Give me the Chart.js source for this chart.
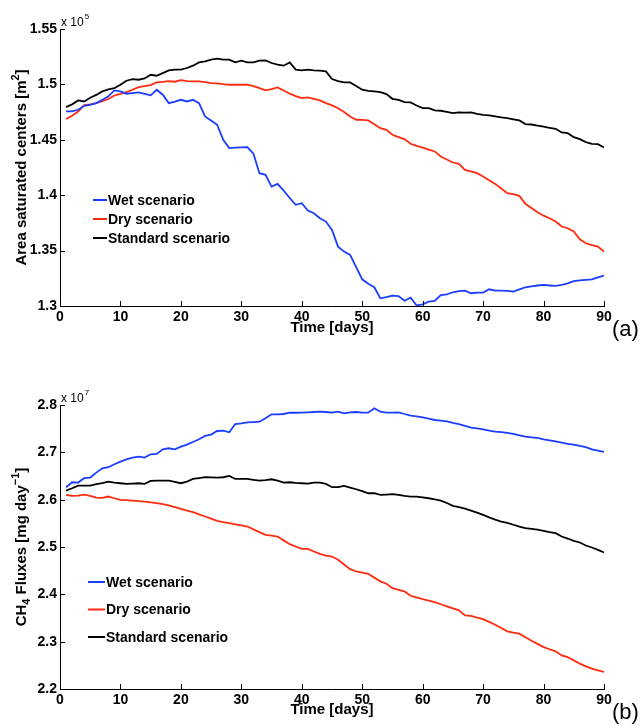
<!DOCTYPE html>
<html><head><meta charset="utf-8">
<script src="https://cdn.jsdelivr.net/npm/chart.js@4.4.1/dist/chart.umd.min.js"></script>
<style>
html,body{margin:0;padding:0;background:#fff;}
#wrap{position:relative;width:642px;height:726px;overflow:hidden;}
canvas{position:absolute;left:0;}
</style></head><body>
<div id="wrap">
<canvas id="ca" width="642" height="363" style="top:0px"></canvas>
<canvas id="cb" width="642" height="363" style="top:363px"></canvas>
</div>
<script>
// ---------- data ----------
const days = Array.from({length: 90}, (_, i) => i + 1);
const seriesNames = ['Wet scenario', 'Dry scenario', 'Standard scenario'];

// Panel (a): Area saturated centers, units of 1e5 m^2
const areaWet = [1.4756,1.4756,1.4771,1.4807,1.4815,1.4831,1.4860,1.4892,1.4946,1.4937,
1.4916,1.4922,1.4928,1.4915,1.4901,1.4952,1.4907,1.4831,1.4845,1.4861,
1.4846,1.4861,1.4831,1.4711,1.4675,1.4636,1.4500,1.4425,1.4430,1.4432,
1.4434,1.4374,1.4199,1.4184,1.4078,1.4102,1.4042,1.3975,1.3913,1.3928,
1.3861,1.3837,1.3792,1.3762,1.3687,1.3536,1.3491,1.3461,1.3350,1.3241,
1.3200,1.3169,1.3069,1.3080,1.3093,1.3090,1.3048,1.3075,1.3005,1.3015,
1.3039,1.3045,1.3099,1.3105,1.3124,1.3135,1.3139,1.3115,1.3121,1.3121,
1.3151,1.3139,1.3138,1.3137,1.3130,1.3150,1.3169,1.3178,1.3185,1.3190,
1.3185,1.3181,1.3190,1.3205,1.3225,1.3232,1.3236,1.3241,1.3258,1.3274];
const areaDry = [1.4687,1.4717,1.4755,1.4813,1.4820,1.4831,1.4848,1.4868,1.4900,1.4915,
1.4930,1.4952,1.4976,1.4985,1.4994,1.5018,1.5022,1.5030,1.5024,1.5039,
1.5030,1.5027,1.5027,1.5020,1.5012,1.5010,1.5002,1.4997,1.4997,1.4997,
1.4997,1.4985,1.4967,1.4946,1.4958,1.4973,1.4945,1.4916,1.4895,1.4877,
1.4883,1.4870,1.4855,1.4831,1.4810,1.4785,1.4750,1.4711,1.4681,1.4680,
1.4675,1.4640,1.4605,1.4590,1.4545,1.4525,1.4506,1.4464,1.4445,1.4430,
1.4412,1.4395,1.4349,1.4322,1.4295,1.4283,1.4229,1.4215,1.4199,1.4169,
1.4135,1.4102,1.4060,1.4018,1.4010,1.3994,1.3922,1.3885,1.3846,1.3815,
1.3792,1.3762,1.3717,1.3702,1.3672,1.3602,1.3566,1.3550,1.3536,1.3491];
const areaStd = [1.4795,1.4820,1.4855,1.4846,1.4880,1.4905,1.4937,1.4955,1.4967,1.4997,
1.5033,1.5048,1.5042,1.5054,1.5087,1.5078,1.5102,1.5127,1.5133,1.5133,
1.5148,1.5169,1.5199,1.5208,1.5223,1.5232,1.5223,1.5223,1.5199,1.5214,
1.5199,1.5199,1.5214,1.5217,1.5193,1.5178,1.5169,1.5199,1.5133,1.5127,
1.5133,1.5127,1.5124,1.5118,1.5048,1.5030,1.5018,1.5018,1.4985,1.4952,
1.4942,1.4937,1.4930,1.4913,1.4870,1.4860,1.4840,1.4837,1.4810,1.4786,
1.4786,1.4765,1.4762,1.4752,1.4741,1.4747,1.4745,1.4747,1.4735,1.4725,
1.4720,1.4712,1.4702,1.4695,1.4685,1.4675,1.4642,1.4638,1.4627,1.4618,
1.4608,1.4599,1.4566,1.4560,1.4524,1.4506,1.4479,1.4464,1.4461,1.4431];

// Panel (b): CH4 fluxes, units of 1e7 mg/day
const fluxWet = [2.6263,2.6368,2.6361,2.6453,2.6467,2.6572,2.6664,2.6685,2.6748,2.6804,
2.6853,2.6889,2.6910,2.6889,2.6959,2.6966,2.7064,2.7086,2.7064,2.7121,
2.7163,2.7219,2.7276,2.7346,2.7374,2.7451,2.7458,2.7423,2.7599,2.7613,
2.7634,2.7640,2.7648,2.7720,2.7803,2.7803,2.7810,2.7838,2.7836,2.7838,
2.7845,2.7852,2.7859,2.7852,2.7838,2.7859,2.7824,2.7845,2.7852,2.7840,
2.7838,2.7930,2.7859,2.7840,2.7838,2.7845,2.7810,2.7775,2.7760,2.7740,
2.7710,2.7683,2.7670,2.7655,2.7620,2.7595,2.7560,2.7522,2.7505,2.7487,
2.7460,2.7437,2.7425,2.7410,2.7390,2.7360,2.7332,2.7318,2.7304,2.7275,
2.7255,2.7230,2.7205,2.7180,2.7165,2.7135,2.7110,2.7064,2.7035,2.7008];
const fluxDry = [2.6101,2.6080,2.6087,2.6108,2.6080,2.6045,2.6037,2.6066,2.6030,2.5995,
2.5990,2.5981,2.5970,2.5960,2.5945,2.5925,2.5905,2.5880,2.5841,2.5805,
2.5770,2.5735,2.5690,2.5644,2.5598,2.5552,2.5525,2.5503,2.5480,2.5457,
2.5433,2.5373,2.5313,2.5257,2.5240,2.5222,2.5140,2.5060,2.5010,2.4961,
2.4961,2.4905,2.4856,2.4820,2.4799,2.4729,2.4630,2.4532,2.4483,2.4460,
2.4434,2.4353,2.4272,2.4223,2.4131,2.4096,2.4061,2.3970,2.3935,2.3899,
2.3868,2.3836,2.3790,2.3745,2.3702,2.3660,2.3555,2.3544,2.3510,2.3477,
2.3417,2.3357,2.3287,2.3217,2.3190,2.3168,2.3094,2.3020,2.2953,2.2886,
2.2840,2.2795,2.2710,2.2675,2.2605,2.2535,2.2478,2.2429,2.2395,2.2359];
const fluxStd = [2.6192,2.6241,2.6298,2.6298,2.6298,2.6326,2.6347,2.6382,2.6361,2.6347,
2.6333,2.6340,2.6347,2.6333,2.6396,2.6403,2.6403,2.6403,2.6375,2.6347,
2.6382,2.6438,2.6455,2.6474,2.6470,2.6467,2.6474,2.6502,2.6438,2.6438,
2.6438,2.6420,2.6403,2.6415,2.6431,2.6400,2.6361,2.6368,2.6355,2.6347,
2.6340,2.6361,2.6361,2.6333,2.6263,2.6263,2.6291,2.6256,2.6220,2.6180,
2.6136,2.6136,2.6101,2.6108,2.6115,2.6100,2.6080,2.6066,2.6066,2.6048,
2.6030,2.6005,2.5981,2.5930,2.5870,2.5840,2.5812,2.5770,2.5725,2.5679,
2.5625,2.5580,2.5538,2.5510,2.5470,2.5430,2.5397,2.5385,2.5365,2.5341,
2.5315,2.5292,2.5221,2.5179,2.5130,2.5095,2.5032,2.4990,2.4940,2.4884];

// ticks
const xTicks = [0,10,20,30,40,50,60,70,80,90];
const xTickLabels = ['0','10','20','30','40','50','60','70','80','90'];
const yTicksA = [1.3,1.35,1.4,1.45,1.5,1.55];
const yTickLabelsA = ['1.3','1.35','1.4','1.45','1.5','1.55'];
const yTicksB = [2.2,2.3,2.4,2.5,2.6,2.7,2.8];
const yTickLabelsB = ['2.2','2.3','2.4','2.5','2.6','2.7','2.8'];

// y-axis titles as rich segments (normal / sub / sup)
const yTitleA = [['Area saturated centers [m', ''], ['2', 'sup'], [']', '']];
const yTitleB = [['CH', ''], ['4', 'sub'], [' Fluxes [mg day', ''], ['\u22121', 'sup'], [']', '']];

// ---------- style ----------
const FONT = "'Liberation Sans', Arial, Helvetica, sans-serif";
const colors = ['#1a3dff', '#ff2b0f', '#000000'];

const inTicks = {
  id: 'inTicks',
  afterDraw(chart) {
    const {ctx, chartArea: a, scales: {x, y}} = chart;
    ctx.save();
    ctx.strokeStyle = '#000'; ctx.lineWidth = 1;
    ctx.beginPath();
    x.ticks.forEach(t => { const px = Math.round(x.getPixelForValue(t.value)) + 0.5; ctx.moveTo(px, a.bottom); ctx.lineTo(px, a.bottom - 5); });
    y.ticks.forEach(t => { const py = Math.round(y.getPixelForValue(t.value)) + 0.5; ctx.moveTo(a.left, py); ctx.lineTo(a.left + 5, py); });
    ctx.stroke();
    ctx.restore();
  }
};

const extras = {
  id: 'extras',
  afterDraw(chart, args, o) {
    const {ctx, chartArea: a} = chart;
    ctx.save();
    // legend inside plot
    const L = o.legend;
    chart.data.datasets.forEach((ds, i) => {
      const yy = L.y + i * L.dy;
      ctx.strokeStyle = ds.borderColor; ctx.lineWidth = 2;
      ctx.beginPath(); ctx.moveTo(L.x, yy); ctx.lineTo(L.x + L.len, yy); ctx.stroke();
      ctx.fillStyle = '#000'; ctx.font = 'bold 14px ' + FONT;
      ctx.textBaseline = 'middle'; ctx.textAlign = 'left';
      ctx.fillText(ds.label, L.x + L.len + 1, yy + 1);
    });
    // rotated y title with sub/superscripts
    const segs = o.yTitle;
    const big = 'bold 15px ' + FONT, small = 'bold 11px ' + FONT;
    let total = 0;
    segs.forEach(([t, k]) => { ctx.font = k ? small : big; total += ctx.measureText(t).width; });
    ctx.save();
    ctx.translate(o.titleX, (a.top + a.bottom) / 2);
    ctx.rotate(-Math.PI / 2);
    ctx.textBaseline = 'middle'; ctx.textAlign = 'left'; ctx.fillStyle = '#000';
    let cx = -total / 2;
    segs.forEach(([t, k]) => {
      ctx.font = k ? small : big;
      const dy = k === 'sup' ? -6 : (k === 'sub' ? 5 : 0);
      ctx.fillText(t, cx, dy);
      cx += ctx.measureText(t).width;
    });
    ctx.restore();
    // exponent multiplier
    ctx.fillStyle = '#000';
    ctx.textBaseline = 'alphabetic'; ctx.textAlign = 'left';
    ctx.font = '12px ' + FONT;
    const bx = a.left + 1, by = a.top - 3;
    ctx.fillText('x 10', bx, by);
    const w = ctx.measureText('x 10').width;
    ctx.font = '8px ' + FONT;
    ctx.fillText(o.exp, bx + w + 1, by - 7);
    // panel label
    ctx.font = '22px ' + FONT;
    ctx.fillText(o.panel, o.px, o.py);
    ctx.restore();
  }
};

function makeChart(id, series, yTicks, yLabels, pad, xH, extraOpts) {
  const datasets = series.map((vals, i) => ({
    label: seriesNames[i],
    data: vals.map((v, k) => ({x: days[k], y: v})),
    borderColor: colors[i],
    borderWidth: 1.8,
    pointRadius: 0,
    tension: 0,
    fill: false
  }));
  return new Chart(document.getElementById(id), {
    type: 'line',
    data: {datasets},
    plugins: [inTicks, extras],
    options: {
      responsive: false,
      animation: false,
      layout: {padding: pad},
      plugins: {legend: {display: false}, tooltip: {enabled: false}, extras: extraOpts},
      scales: {
        x: {
          type: 'linear', min: 0, max: 90,
          afterBuildTicks: s => { s.ticks = xTicks.map(v => ({value: v})); },
          afterFit: s => { s.height = xH; },
          grid: {display: false, drawTicks: false},
          border: {display: true, color: '#000', width: 1},
          ticks: {autoSkip: false, maxRotation: 0, padding: 3, color: '#000',
                  font: {family: FONT, size: 14, weight: 'bold'},
                  callback: v => xTickLabels[xTicks.indexOf(v)]},
          title: {display: true, text: 'Time [days]', color: '#000', padding: 0,
                  font: {family: FONT, size: 15, weight: 'bold'}}
        },
        y: {
          type: 'linear', min: yTicks[0], max: yTicks[yTicks.length - 1],
          afterBuildTicks: s => { s.ticks = yTicks.map(v => ({value: v})); },
          afterFit: s => { s.width = 48; },
          grid: {display: false, drawTicks: false},
          border: {display: true, color: '#000', width: 1},
          ticks: {autoSkip: false, padding: 3, color: '#000',
                  font: {family: FONT, size: 14, weight: 'bold'},
                  callback: v => { const i = yTicks.findIndex(t => Math.abs(t - v) < 1e-9); return yLabels[i]; }},
          title: {display: false}
        }
      }
    }
  });
}

makeChart('ca', [areaWet, areaDry, areaStd], yTicksA, yTickLabelsA,
  {left: 12, top: 29, right: 38, bottom: 26}, 31,
  {legend: {x: 93, y: 200, dy: 19, len: 14}, exp: '5', panel: '(a)', px: 612, py: 336,
   yTitle: yTitleA, titleX: 21.5});

makeChart('cb', [fluxWet, fluxDry, fluxStd], yTicksB, yTickLabelsB,
  {left: 12, top: 42, right: 38, bottom: 7}, 30,
  {legend: {x: 88, y: 219, dy: 27.5, len: 17}, exp: '7', panel: '(b)', px: 612, py: 356,
   yTitle: yTitleB, titleX: 21.5});
</script>
</body></html>
